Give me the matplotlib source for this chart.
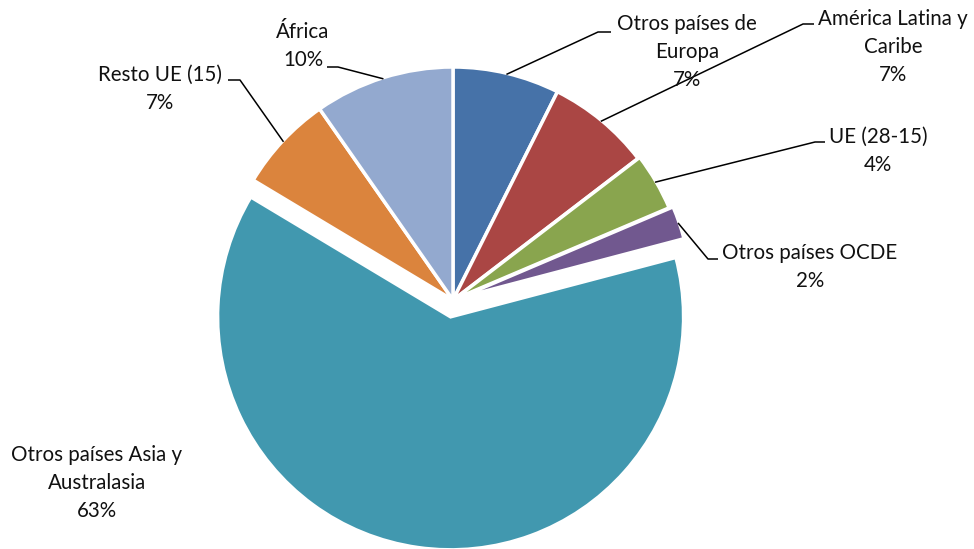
import numpy as np
import matplotlib.pyplot as plt

# datos: procedencia (%), sentido horario desde arriba
regiones = ['Otros países de\nEuropa', 'América Latina y\nCaribe', 'UE (28-15)',
            'Otros países OCDE', 'Otros países Asia y\nAustralasia',
            'Resto UE (15)', 'África']
valores = [7.4, 7.2, 4.0, 2.3, 62.7, 6.7, 9.7]
etiquetas_pct = ['7%', '7%', '4%', '2%', '63%', '7%', '10%']
colores = ['#4672A8', '#AA4644', '#89A54E', '#71588F', '#4198AF', '#DB843D', '#93A9CF']

# posicion de las etiquetas (pixeles, y hacia arriba) y codo de la linea guia
pos_texto = [(687, 497), (893, 502), (878, 398), (810, 282), (97, 66), (160, 460), (303, 503)]
codo = [(598, 517), (803, 525), (815, 407), (708, 290), None, (240, 469), (338, 482)]
fin_h = [(611, 517), (814, 525), (825, 407), (718, 290), None, (228, 469), (327, 482)]

plt.rcParams['font.family'] = ['Lato', 'DejaVu Sans']

fig = plt.figure(figsize=(9.74, 5.49), dpi=100)
ax = fig.add_axes([0, 0, 1, 1])

explode = [0, 0, 2, 6, 17, 0, 0]
wedges, _ = ax.pie(valores, startangle=90, counterclock=False, colors=colores,
                   explode=explode, radius=233, center=(453, 249),
                   wedgeprops=dict(edgecolor='white', linewidth=2.5))

ax.set_xlim(0, 974)
ax.set_ylim(0, 549)
ax.set_aspect('equal')
ax.axis('off')

for i, w in enumerate(wedges):
    ax.text(pos_texto[i][0], pos_texto[i][1], regiones[i] + '\n' + etiquetas_pct[i],
            ha='center', va='center', fontsize=14.8, color='#111111', linespacing=1.5)
    if codo[i] is None:
        continue
    tm = np.deg2rad((w.theta1 + w.theta2) / 2)
    px = w.center[0] + w.r * 0.995 * np.cos(tm)
    py = w.center[1] + w.r * 0.995 * np.sin(tm)
    ax.plot([px, codo[i][0], fin_h[i][0]], [py, codo[i][1], fin_h[i][1]],
            color='black', linewidth=1.1, solid_capstyle='butt')

plt.savefig('out.png', dpi=100)
